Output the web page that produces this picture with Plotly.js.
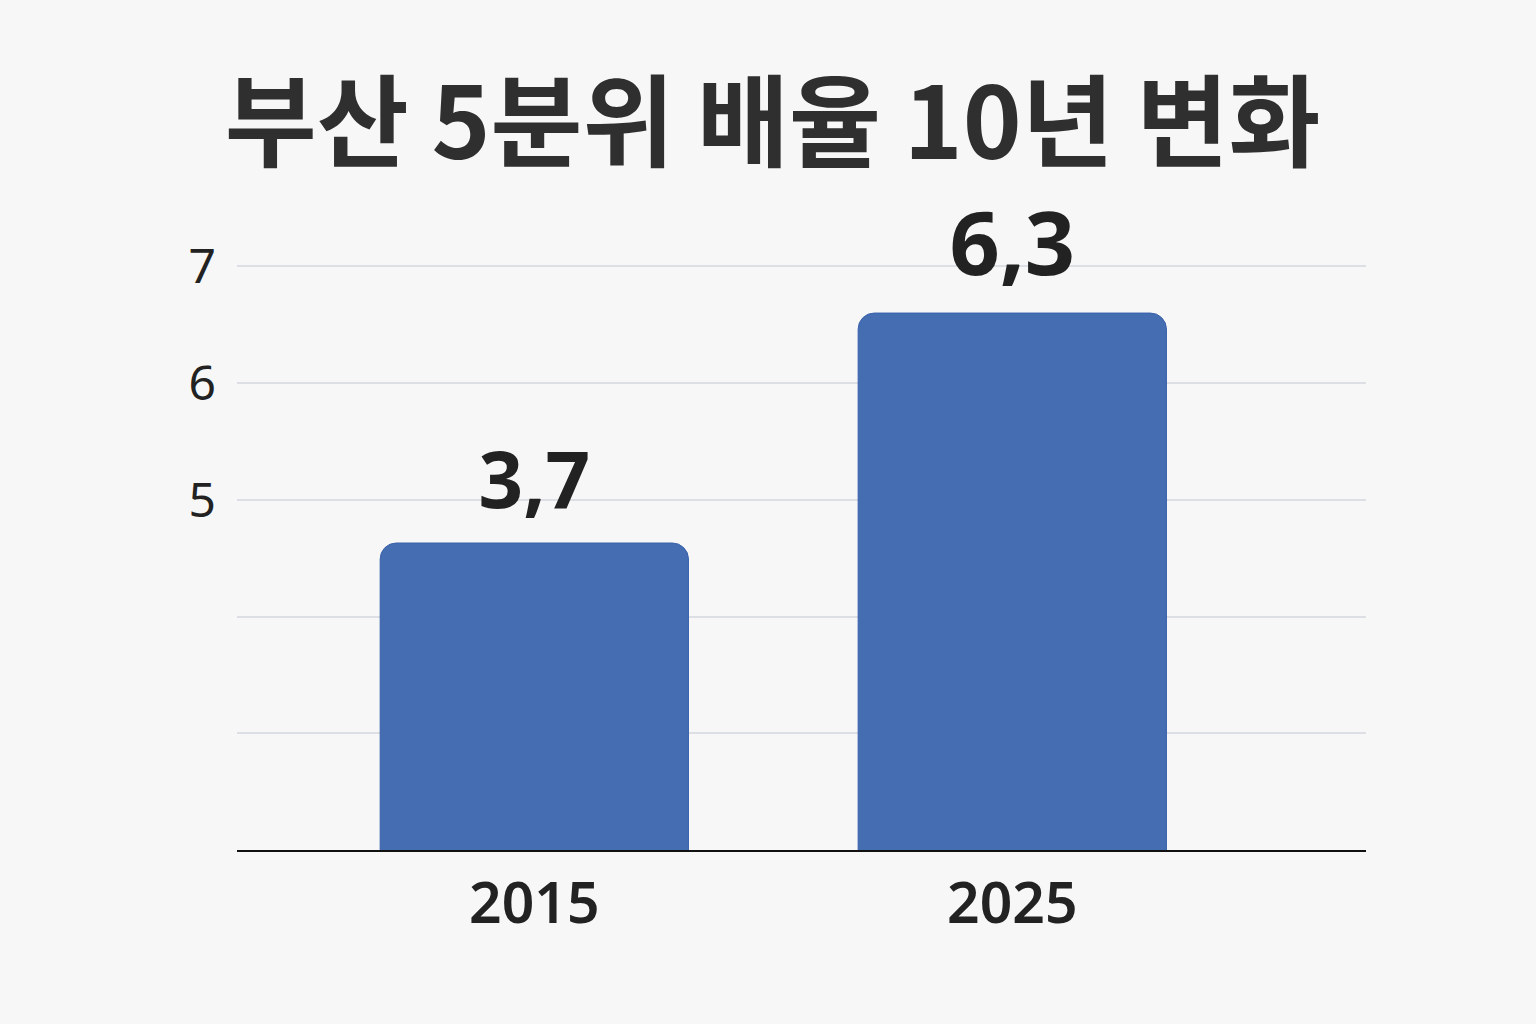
<!DOCTYPE html>
<html>
<head>
<meta charset="utf-8">
<script src="https://cdn.plot.ly/plotly-3.0.1.min.js"></script>
<style>
  html, body { margin: 0; padding: 0; background: #f7f7f7; }
  #chart { width: 1536px; height: 1024px; }
</style>
</head>
<body>
<div id="chart"></div>
<script>
// Data
const years = ['2015', '2025'];
const barValues = [4.63, 6.60];          // bar heights as drawn against the axis
const barLabels = ['3,7', '6,3'];        // value labels printed above bars
const yTickVals = [3, 4, 5, 6, 7];
const yTickText = ['', '', '5', '6', '7'];
const titleText = '부산 5분위 배율 10년 변화';

const bars = {
  type: 'bar',
  x: [0, 1],
  y: barValues,
  width: 0.645,
  cliponaxis: true,
  marker: { color: '#456db1', line: { color: '#3a62ad', width: 1 } },
  hoverinfo: 'none'
};

const labels = {
  type: 'scatter',
  mode: 'markers+text',
  x: [-0.01, 0],
  y: barValues,
  text: barLabels,
  textposition: 'top center',
  cliponaxis: false,
  marker: { size: 24, opacity: 0, color: '#456db1' },
  textfont: { family: 'Noto Sans, DejaVu Sans, sans-serif', size: [78, 88], color: '#222222', weight: 700 },
  hoverinfo: 'none'
};
labels.x = [0, 1];

const layout = {
  width: 1536,
  height: 1024,
  paper_bgcolor: '#f7f7f7',
  plot_bgcolor: '#f7f7f7',
  margin: { l: 237, r: 170, t: 208, b: 174 },
  showlegend: false,
  barcornerradius: 16,
  title: {
    text: titleText,
    font: { family: 'Noto Sans CJK KR, sans-serif', size: 100, color: '#2f2f2f', weight: 700 },
    x: 0.503, xanchor: 'center',
    y: 1 - 124 / 1024, yref: 'container', yanchor: 'middle'
  },
  xaxis: {
    range: [-0.622, 1.74],
    tickmode: 'array',
    tickvals: [0, 1],
    ticktext: years,
    showgrid: false,
    zeroline: false,
    showline: true,
    linecolor: '#111111',
    linewidth: 2,
    ticks: '',
    ticklabelstandoff: 3,
    tickfont: { family: 'Noto Sans, sans-serif', size: 57, color: '#222222', weight: 600 }
  },
  yaxis: {
    range: [2, 7.5],
    tickmode: 'array',
    tickvals: yTickVals,
    ticktext: yTickText,
    showgrid: true,
    gridcolor: '#dcdfe3',
    gridwidth: 2,
    zeroline: false,
    showline: false,
    ticks: '',
    ticklabelstandoff: 20,
    tickfont: { family: 'Noto Sans, sans-serif', size: 48, color: '#222222' }
  }
};

Plotly.newPlot('chart', [bars, labels], layout, { staticPlot: true, displayModeBar: false });
</script>
</body>
</html>
